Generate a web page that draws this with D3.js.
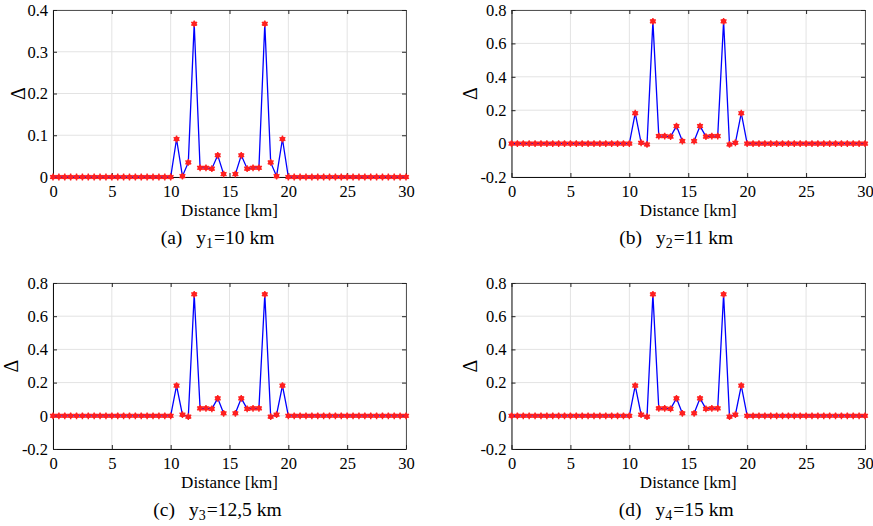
<!DOCTYPE html>
<html>
<head>
<meta charset="utf-8">
<script src="https://cdn.jsdelivr.net/npm/d3@7"></script>
<style>
  html, body { margin: 0; padding: 0; background: #fff; }
  svg text { font-family: "Liberation Serif", "Times New Roman", serif; fill: #000; }
</style>
</head>
<body>
<svg id="chart" width="873" height="526"></svg>
<script>
// ---- data ----
const distance = [0,0.5,1,1.5,2,2.5,3,3.5,4,4.5,5,5.5,6,6.5,7,7.5,8,8.5,9,9.5,
  10,10.5,11,11.5,12,12.5,13,13.5,14,14.5,15,15.5,16,16.5,17,17.5,18,18.5,19,19.5,20,
  20.5,21,21.5,22,22.5,23,23.5,24,24.5,25,25.5,26,26.5,27,27.5,28,28.5,29,29.5,30];

const zeros20 = [0,0,0,0,0,0,0,0,0,0,0,0,0,0,0,0,0,0,0,0];

const deltaA = [...zeros20,
  0,0.091,0.002,0.035,0.367,0.022,0.022,0.020,0.052,0.007,null,0.007,0.052,0.020,0.022,0.022,0.367,0.035,0.002,0.091,0,
  ...zeros20];
const deltaB = [...zeros20,
  0,0.182,0.005,-0.005,0.732,0.045,0.045,0.042,0.105,0.015,null,0.015,0.105,0.042,0.045,0.045,0.732,-0.005,0.005,0.182,0,
  ...zeros20];
const deltaC = [...zeros20,
  0,0.182,0.007,-0.005,0.732,0.045,0.045,0.042,0.105,0.015,null,0.015,0.105,0.042,0.045,0.045,0.732,-0.005,0.007,0.182,0,
  ...zeros20];
const deltaD = [...zeros20,
  0,0.182,0.007,-0.005,0.732,0.045,0.045,0.042,0.105,0.015,null,0.015,0.105,0.042,0.045,0.045,0.732,-0.005,0.007,0.182,0,
  ...zeros20];

const xTicks = [0,5,10,15,20,25,30];
const yTicksA = [0,0.1,0.2,0.3,0.4];
const yTicksB = [-0.2,0,0.2,0.4,0.6,0.8];

const captionLetters = ["(a)","(b)","(c)","(d)"];
const captionSubs = ["1","2","3","4"];
const captionValues = ["=10 km","=11 km","=12,5 km","=15 km"];
const xLabel = "Distance [km]";
const yLabel = "Δ";

// ---- layout ----
const FONT = '"Liberation Serif", "Times New Roman", serif';
const panels = [
  {vals: deltaA, yDomain: [0,0.4],  yTicks: yTicksA, left: 53,  right: 406, top: 10,  bottom: 177, yLab: 28},
  {vals: deltaB, yDomain: [-0.2,0.8], yTicks: yTicksB, left: 511.5, right: 865, top: 10, bottom: 177, yLab: 35},
  {vals: deltaC, yDomain: [-0.2,0.8], yTicks: yTicksB, left: 53,  right: 406, top: 283, bottom: 449, yLab: 35},
  {vals: deltaD, yDomain: [-0.2,0.8], yTicks: yTicksB, left: 511.5, right: 865, top: 283, bottom: 449, yLab: 35}
];

const svg = d3.select("#chart");
const fmt = d => d === 0 ? "0" : (+d.toFixed(1)).toString();

panels.forEach((p, i) => {
  const x = d3.scaleLinear().domain([0,30]).range([p.left, p.right]);
  const y = d3.scaleLinear().domain(p.yDomain).range([p.bottom, p.top]);
  const g = svg.append("g");

  // grid
  g.append("g").selectAll("line").data(xTicks).join("line")
    .attr("x1", d => x(d)).attr("x2", d => x(d)).attr("y1", p.top).attr("y2", p.bottom)
    .attr("stroke", "#e3e3e3").attr("stroke-width", 1);
  g.append("g").selectAll("line").data(p.yTicks).join("line")
    .attr("x1", p.left).attr("x2", p.right).attr("y1", d => y(d)).attr("y2", d => y(d))
    .attr("stroke", "#e3e3e3").attr("stroke-width", 1);

  // axes (ticks inward)
  const bottomAxis = d3.axisBottom(x).tickValues(xTicks).tickSizeInner(-4).tickSizeOuter(0).tickPadding(8).tickFormat(fmt);
  const topAxis = d3.axisTop(x).tickValues(xTicks).tickSizeInner(-4).tickSizeOuter(0).tickFormat("");
  const leftAxis = d3.axisLeft(y).tickValues(p.yTicks).tickSizeInner(-4).tickSizeOuter(0).tickPadding(5).tickFormat(fmt);
  const rightAxis = d3.axisRight(y).tickValues(p.yTicks).tickSizeInner(-4).tickSizeOuter(0).tickFormat("");

  const styleAxis = (sel, col) => {
    sel.attr("font-family", null);
    sel.selectAll("path").attr("stroke", col).attr("stroke-width", 1);
    sel.selectAll("line").attr("stroke", "#222");
    sel.selectAll("text").style("font-family", FONT).style("font-size", "16.5px").attr("fill", "#000");
  };
  g.append("g").attr("transform", `translate(0,${p.top})`).call(topAxis).call(s => styleAxis(s, "#555"));
  g.append("g").attr("transform", `translate(${p.right},0)`).call(rightAxis).call(s => styleAxis(s, "#555"));
  g.append("g").attr("transform", `translate(0,${p.bottom})`).call(bottomAxis).call(s => styleAxis(s, "#111"));
  g.append("g").attr("transform", `translate(${p.left},0)`).call(leftAxis).call(s => styleAxis(s, "#111"));

  // data
  const pts = distance.map((d, k) => ({x: d, v: p.vals[k]}));
  const line = d3.line().defined(d => d.v !== null).x(d => x(d.x)).y(d => y(d.v));
  g.append("path").datum(pts).attr("d", line)
    .attr("fill", "none").attr("stroke", "#0000ff").attr("stroke-width", 1.3);

  const valid = pts.filter(d => d.v !== null);
  const mk = g.append("g").selectAll("g").data(valid).join("g")
    .attr("transform", d => `translate(${x(d.x)},${y(d.v)})`);
  mk.append("circle").attr("r", 2.5).attr("fill", "#ff1a1a");
  mk.append("path").attr("d", d3.symbol(d3.symbolAsterisk, 32)())
    .attr("fill", "none").attr("stroke", "#ff2020").attr("stroke-width", 1.4);

  // labels
  svg.append("text").attr("x", (p.left + p.right) / 2).attr("y", p.bottom + 39)
    .attr("text-anchor", "middle").style("font-family", FONT).style("font-size", "17px").text(xLabel);
  svg.append("text")
    .attr("transform", `translate(${p.left - p.yLab},${(p.top + p.bottom) / 2}) rotate(-90)`)
    .attr("text-anchor", "middle").style("font-family", FONT).style("font-size", "20px").text(yLabel);

  const cap = svg.append("text").attr("x", (p.left + p.right) / 2 - 12).attr("y", p.bottom + 67)
    .attr("text-anchor", "middle").style("font-family", FONT).style("font-size", "19.5px");
  cap.append("tspan").text(captionLetters[i]);
  cap.append("tspan").attr("dx", 14).text("y");
  cap.append("tspan").style("font-size", "14px").attr("dy", 4).text(captionSubs[i]);
  cap.append("tspan").attr("dy", -4).attr("dx", 1).text(captionValues[i]);
});
</script>
</body>
</html>
